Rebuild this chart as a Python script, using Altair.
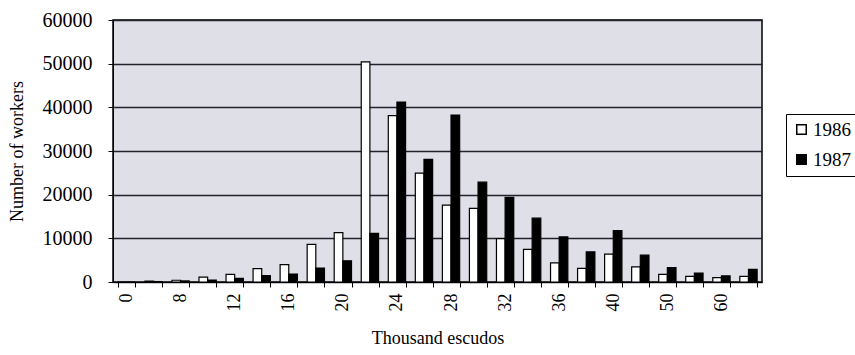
import altair as alt
import pandas as pd

categories = ["0", "4", "8", "10", "12", "14", "16", "18", "20", "22", "24", "26",
              "28", "30", "32", "34", "36", "38", "40", "45", "50", "55", "60", "65"]
shown_labels = ["0", "8", "12", "16", "20", "24", "28", "32", "36", "40", "50", "60"]
workers_1986 = [0, 200, 400, 1100, 1750, 3050, 3970, 8630, 11300, 50400, 38100, 24950,
                17600, 16850, 9930, 7460, 4400, 3100, 6380, 3460, 1750, 1300, 1000, 1300]
workers_1987 = [0, 100, 250, 450, 840, 1450, 1830, 3200, 4870, 11150, 41200, 28100,
                38250, 22850, 19400, 14620, 10320, 6900, 11770, 6150, 3300, 2050, 1400, 2900]
years = ["1986", "1987"]

rows = []
for c, a, b in zip(categories, workers_1986, workers_1987):
    rows.append({"cat": c, "year": years[0], "workers": a})
    rows.append({"cat": c, "year": years[1], "workers": b})
df = pd.DataFrame(rows)

FONT = "Liberation Serif"
label_expr = "indexof(" + str(shown_labels).replace('"', "'") + ", datum.label) >= 0 ? datum.label : ''"

chart = alt.Chart(df).mark_bar(stroke="black", strokeWidth=1.2).encode(
    x=alt.X("cat:N", sort=categories,
            scale=alt.Scale(paddingInner=0.36, paddingOuter=0.18),
            axis=alt.Axis(title="Thousand escudos", labelAngle=270, labelExpr=label_expr,
                          tickBand="extent", tickSize=5, labelPadding=6, titlePadding=18,
                          labelFontSize=18, titleFontSize=18,
                          domainColor="black", tickColor="black", grid=False)),
    xOffset=alt.XOffset("year:N", sort=years),
    y=alt.Y("workers:Q", scale=alt.Scale(domain=[0, 60000], nice=False),
            axis=alt.Axis(title="Number of workers", values=[0, 10000, 20000, 30000, 40000, 50000, 60000],
                          format="d", tickSize=5, labelPadding=16, titlePadding=16,
                          labelFontSize=20, titleFontSize=18,
                          domainColor="black", tickColor="black",
                          gridColor="#22222e", gridWidth=1.5)),
    fill=alt.Fill("year:N", sort=years,
                  scale=alt.Scale(domain=years, range=["white", "black"]),
                  legend=alt.Legend(title=None, orient="none", legendX=673, legendY=94,
                                    symbolType="square", symbolSize=90,
                                    symbolStrokeColor="black", symbolStrokeWidth=1.5,
                                    strokeColor="black", padding=6, rowPadding=10,
                                    labelFont=FONT, labelFontSize=19, labelColor="black",
                                    labelOffset=2)),
).properties(
    width=649, height=262,
    autosize=alt.AutoSizeParams(type="none"),
    padding={"left": 113, "top": 20, "right": 93, "bottom": 73},
    background="white",
).configure_view(
    fill="#dfdfe7", stroke="black", strokeWidth=1.5
).configure_axis(
    labelFont=FONT, titleFont=FONT,
    titleFontWeight="normal", labelColor="black", titleColor="black"
)

chart.save("out.html", embed_options={"renderer": "svg", "actions": False})
